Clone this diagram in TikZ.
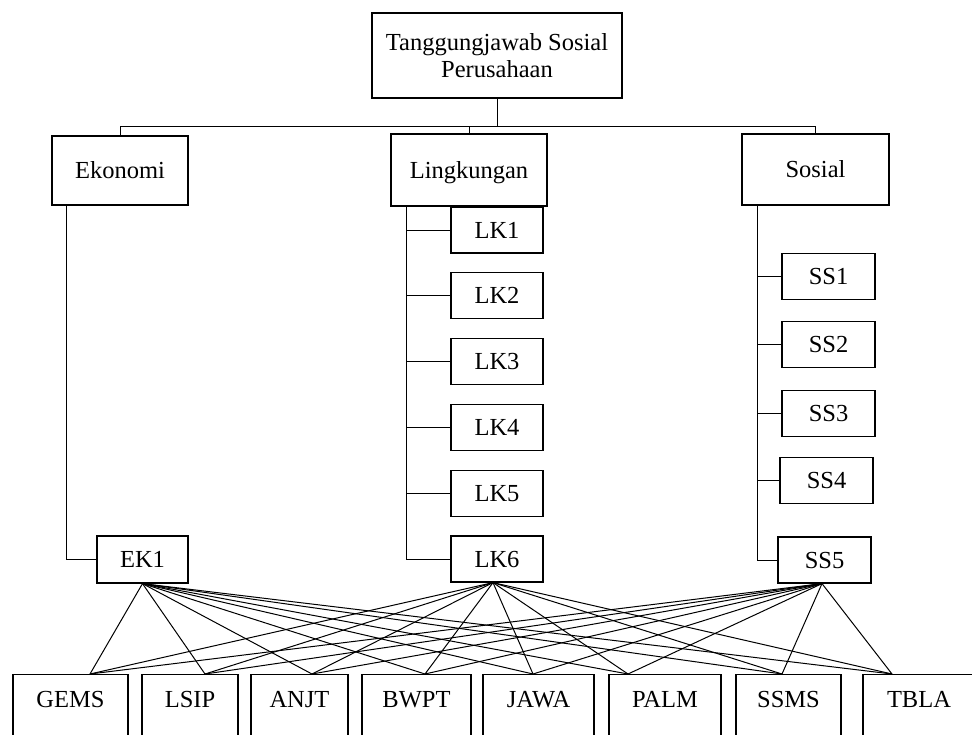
\documentclass[tikz,border=0pt]{standalone}
\usepackage{fontspec}
\setmainfont{Liberation Serif}

\begin{document}
\begin{tikzpicture}[x=1pt,y=-1pt,
    box/.style={draw,line width=1.2pt,inner sep=0pt,font=\fontsize{24.5}{27}\selectfont},
    tag/.style={box,text height=17pt,text depth=1pt},
    link/.style={line width=1pt}]
    \clip (0,0) rectangle (972,734);
    % top of the tree
    \node[box,minimum width=250,minimum height=85,align=center] (csr) at (497,55.5) {Tanggungjawab Sosial\\Perusahaan};
    \node[tag,minimum width=136,minimum height=69] (eko) at (120,170.5) {Ekonomi};
    \node[tag,minimum width=156,minimum height=72] (ling) at (469,170) {Lingkungan};
    \node[tag,minimum width=147,minimum height=71] (sos) at (815.5,169.5) {Sosial};
    \draw[link] (csr.south) -- ++(0,28) coordinate (hub);
    \draw[link] (eko.north) |- (hub) -| (sos.north);
    \draw[link] (ling.north) |- (hub);

    % indicators
    \node[tag,minimum width=91,minimum height=47] (ek1) at (142.5,559.5) {EK1};
    \draw[link] ([xshift=-54pt]eko.south) |- (ek1.west);

    \foreach \i/\y in {1/230,2/295.8,3/361.6,4/427.4,5/493.2,6/559}
        \node[tag,minimum width=92,minimum height=46] (lk\i) at (497,\y) {LK\i};
    \coordinate (lkspine) at ([xshift=-63pt]ling.south);
    \foreach \i in {1,...,6}
        \draw[link] (lkspine) |- (lk\i.west);

    \foreach \i/\x/\y in {1/828.5/276.5,2/828.5/344.5,3/828.5/413.5,4/826.5/480.5,5/824.5/560}
        \node[tag,minimum width=93,minimum height=46] (ss\i) at (\x,\y) {SS\i};
    \coordinate (ssspine) at ([xshift=-58.5pt]sos.south);
    \foreach \i in {1,...,5}
        \draw[link] (ssspine) |- (ss\i.west);

    % companies
    \foreach \n/\t/\x/\w in {gems/GEMS/70.5/115,lsip/LSIP/190/96,anjt/ANJT/299.5/97,bwpt/BWPT/416.5/109,
                            jawa/JAWA/538.5/111,palm/PALM/665/112,ssms/SSMS/788.5/105,tbla/TBLA/919/112}
        \node[box,anchor=north,minimum width=\w,text height=33pt,text depth=40pt] (\n) at (\x,674) {\t};

    \foreach \n/\s in {gems/19.5,lsip/15,anjt/12.5,bwpt/8.5,jawa/-5.5,palm/-37,ssms/-6.5,tbla/-27} {
        \draw[link] (ek1.south) -- ([xshift=\s pt]\n.north);
        \draw[link] ([xshift=-4pt]lk6.south) -- ([xshift=\s pt]\n.north);
        \draw[link] ([xshift=-2.5pt]ss5.south) -- ([xshift=\s pt]\n.north);
    }
\end{tikzpicture}
\end{document}
